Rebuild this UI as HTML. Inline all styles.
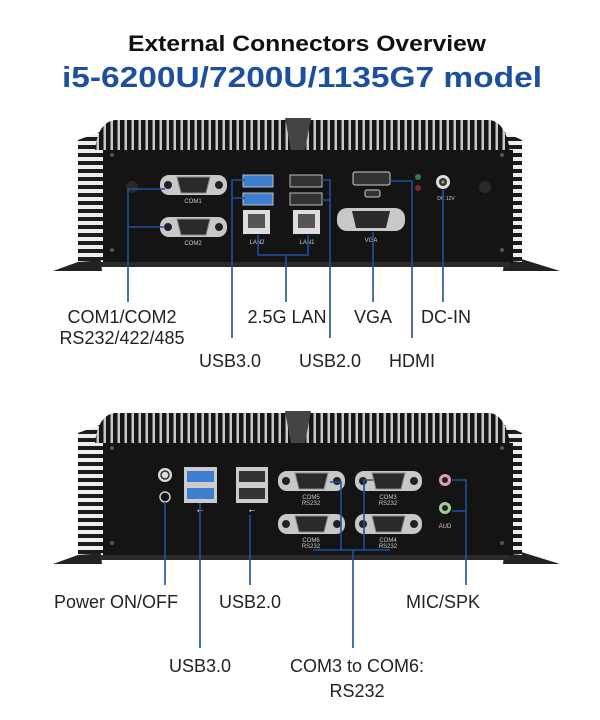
<!DOCTYPE html>
<html><head><meta charset="utf-8"><style>
html,body{margin:0;padding:0;background:#fff;}
svg{display:block;}
text{font-family:"Liberation Sans",sans-serif;}
</style></head><body>
<svg width="600" height="720" viewBox="0 0 600 720" xmlns="http://www.w3.org/2000/svg">
<defs>
<pattern id="vf" width="7" height="10" patternUnits="userSpaceOnUse">
<rect width="7" height="10" fill="#c8c8c8"/><rect x="1" width="4.5" height="10" fill="#161616"/>
</pattern>
<pattern id="hf" width="10" height="8" patternUnits="userSpaceOnUse">
<rect width="10" height="8" fill="#eeeeee"/><rect y="1" width="10" height="4" fill="#1c1c1c"/>
</pattern>
<g id="dev">
  <polygon points="53,271 100,254 102,271" fill="#222"/>
  <polygon points="560,271 505,254 503,271" fill="#222"/>
  <path d="M78,140 L105,130 L105,260 L78,262 Z" fill="url(#hf)"/>
  <path d="M522,140 L500,130 L500,260 L522,262 Z" fill="url(#hf)"/>
  <path d="M95,150 Q98,122 115,120 L490,120 Q505,122 510,150 Z" fill="url(#vf)"/>
  <polygon points="285,118 311,118 305,150 291,150" fill="#444"/>
  <rect x="103" y="150" width="410" height="113" fill="#141414"/>
  <rect x="100" y="262" width="410" height="5" fill="#2a2a2a"/>
  <circle cx="112" cy="155" r="2" fill="#555"/><circle cx="502" cy="155" r="2" fill="#555"/>
  <circle cx="112" cy="250" r="2" fill="#555"/><circle cx="502" cy="250" r="2" fill="#555"/>
</g>
<g id="db9">
  <rect x="0" y="0" width="67" height="20" rx="9" fill="#c8c8c8"/>
  <circle cx="8" cy="10" r="4" fill="#222"/><circle cx="59" cy="10" r="4" fill="#222"/>
  <path d="M17,2 L50,2 L46,18 L21,18 Z" fill="#2a2a2a" stroke="#888" stroke-width="1"/>
</g>
</defs>

<text x="307" y="51" font-size="22" font-weight="bold" text-anchor="middle" fill="#111" textLength="358" lengthAdjust="spacingAndGlyphs">External Connectors Overview</text>
<text x="302" y="87" font-size="29" font-weight="bold" text-anchor="middle" fill="#1c4f9c" textLength="480" lengthAdjust="spacingAndGlyphs">i5-6200U/7200U/1135G7 model</text>

<use href="#dev"/>
<circle cx="132" cy="187" r="6" fill="#2a2a2a"/><circle cx="485" cy="187" r="6" fill="#2a2a2a"/>
<use href="#db9" x="160" y="175"/>
<use href="#db9" x="160" y="217"/>
<text x="193" y="203" font-size="6" fill="#ccc" text-anchor="middle">COM1</text>
<text x="193" y="245" font-size="6" fill="#ccc" text-anchor="middle">COM2</text>
<rect x="243" y="175" width="30" height="12" fill="#3f7fd0" stroke="#bbb"/>
<rect x="243" y="193" width="30" height="12" fill="#3f7fd0" stroke="#bbb"/>
<rect x="290" y="175" width="32" height="12" fill="#333" stroke="#bbb"/>
<rect x="290" y="193" width="32" height="12" fill="#333" stroke="#bbb"/>
<rect x="243" y="210" width="27" height="24" fill="#ddd"/><rect x="248" y="214" width="17" height="14" fill="#555"/>
<rect x="293" y="210" width="27" height="24" fill="#ddd"/><rect x="298" y="214" width="17" height="14" fill="#555"/>
<text x="257" y="244" font-size="6" fill="#ccc" text-anchor="middle">LAN2</text>
<text x="307" y="244" font-size="6" fill="#ccc" text-anchor="middle">LAN1</text>
<rect x="353" y="172" width="37" height="13" rx="2" fill="#333" stroke="#ccc"/>
<rect x="365" y="190" width="15" height="7" rx="2" fill="#333" stroke="#ccc"/>
<rect x="337" y="208" width="68" height="23" rx="10" fill="#c8c8c8"/>
<path d="M352,211 L390,211 L386,228 L356,228 Z" fill="#2a2a2a"/>
<text x="371" y="242" font-size="6" fill="#ccc" text-anchor="middle">VGA</text>
<circle cx="418" cy="177" r="3" fill="#3a7a3a"/><circle cx="418" cy="188" r="3" fill="#7a2a2a"/>
<circle cx="443" cy="182" r="7" fill="#ddd"/><circle cx="443" cy="182" r="4" fill="#333"/><circle cx="443" cy="182" r="1.5" fill="#c9a040"/>
<text x="446" y="200" font-size="5" fill="#ccc" text-anchor="middle">DC 12V</text>

<g stroke="#1f4fa0" stroke-width="1.6" fill="none">
<path d="M128,302 V189 M128,189 H165 M128,227 H165"/>
<path d="M232,338 V180 H245 M232,198 H245"/>
<path d="M330,338 V180 H322 M330,200 H322"/>
<path d="M258,235 V255 H308 V235 M286,255 V302"/>
<path d="M373,232 V302"/>
<path d="M390,181 H412 V338"/>
<path d="M443,190 V302"/>
</g>
<g font-size="18" fill="#222" text-anchor="middle">
<text x="122" y="323">COM1/COM2</text>
<text x="122" y="344">RS232/422/485</text>
<text x="287" y="323">2.5G LAN</text>
<text x="373" y="323">VGA</text>
<text x="446" y="323">DC-IN</text>
<text x="230" y="367">USB3.0</text>
<text x="330" y="367">USB2.0</text>
<text x="412" y="367">HDMI</text>
</g>

<use href="#dev" y="293"/>
<circle cx="165" cy="475" r="7" fill="#ddd"/><circle cx="165" cy="475" r="4" fill="none" stroke="#333" stroke-width="1.5"/>
<circle cx="165" cy="497" r="5" fill="none" stroke="#ccc" stroke-width="1.5"/>
<rect x="184" y="467" width="33" height="36" fill="#ccc"/>
<rect x="187" y="471" width="27" height="11" fill="#3f7fd0"/><rect x="187" y="488" width="27" height="11" fill="#3f7fd0"/>
<rect x="236" y="467" width="32" height="36" fill="#ccc"/>
<rect x="239" y="471" width="26" height="11" fill="#333"/><rect x="239" y="488" width="26" height="11" fill="#333"/>
<text x="200" y="513" font-size="8" fill="#ddd" text-anchor="middle">⭠</text>
<text x="252" y="513" font-size="8" fill="#ddd" text-anchor="middle">⭠</text>
<use href="#db9" x="278" y="471"/><use href="#db9" x="355" y="471"/>
<use href="#db9" x="278" y="514"/><use href="#db9" x="355" y="514"/>
<g font-size="6" fill="#ccc" text-anchor="middle">
<text x="311" y="499">COM5</text><text x="311" y="505">RS232</text>
<text x="388" y="499">COM3</text><text x="388" y="505">RS232</text>
<text x="311" y="542">COM6</text><text x="311" y="548">RS232</text>
<text x="388" y="542">COM4</text><text x="388" y="548">RS232</text>
<text x="445" y="528">AUD</text>
</g>
<circle cx="445" cy="480" r="6" fill="#d9a0c0"/><circle cx="445" cy="480" r="3" fill="#222"/>
<circle cx="445" cy="508" r="6" fill="#a0d090"/><circle cx="445" cy="508" r="3" fill="#222"/>

<g stroke="#1f4fa0" stroke-width="1.6" fill="none">
<path d="M165,502 V585"/>
<path d="M200,503 V648"/>
<path d="M250,515 V585"/>
<path d="M330,482 H341 V550 M364,550 V480 H373 M313,550 H390 M353,550 V648"/>
<path d="M452,480 H466 V585 M452,511 H466"/>
</g>
<g font-size="18" fill="#222" text-anchor="middle">
<text x="116" y="608">Power ON/OFF</text>
<text x="250" y="608">USB2.0</text>
<text x="443" y="608">MIC/SPK</text>
<text x="200" y="672">USB3.0</text>
<text x="357" y="672">COM3 to COM6:</text>
<text x="357" y="697">RS232</text>
</g>
</svg>
</body></html>
